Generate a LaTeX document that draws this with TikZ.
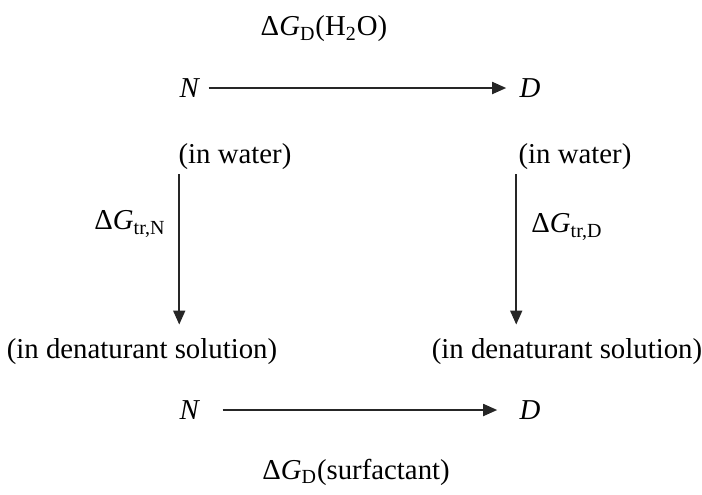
\documentclass[tikz,border=0pt]{standalone}
\usepackage{fontspec}
\setmainfont{Liberation Serif}
\usetikzlibrary{arrows.meta}
\tikzset{
  lbl/.style={inner sep=2pt, font=\fontsize{14.4}{17}\selectfont},
  arr/.style={line width=0.9pt, draw=black!85, -{Triangle[length=7pt,width=6pt]}}
}
\newcommand{\dG}{Δ\textit{G}}
\begin{document}
\begin{tikzpicture}[x=0.5pt, y=-0.5pt]
\useasboundingbox (0,0) rectangle (702,494);
% top row
\node[lbl] (gw) at (324,29) {\dG\textsubscript{D}(H\textsubscript{2}O)};
\node[lbl] (nt) at (190,88) {\textit{N}};
\node[lbl] (dt) at (530,88) {\textit{D}};
\draw[arr, shorten <=2pt, shorten >=4.5pt] (nt.east) -- (dt.west);
% states
\node[lbl] (wl) at (235,157) {(in water)};
\node[lbl] (wr) at (575,157) {(in water)};
\node[lbl] (sl) at (142,352) {(in denaturant solution)};
\node[lbl] (sr) at (567,352) {(in denaturant solution)};
% transfer
\draw[arr, shorten >=5pt] ([xshift=2.5pt]wl.south west) -- ([xshift=2.5pt]wl.south west |- sl.north);
\draw[arr, shorten >=5pt] ([xshift=1pt]wr.south west) -- ([xshift=1pt]wr.south west |- sr.north);
\node[lbl] (gn) at (130,224) {\dG\textsubscript{tr,N}};
\node[lbl] (gd) at (567,227) {\dG\textsubscript{tr,D}};
% bottom row
\node[lbl] (nb) at (190,410) {\textit{N}};
\node[lbl] (db) at (530,410) {\textit{D}};
\draw[arr, shorten <=9pt, shorten >=9pt] (nb.east) -- (db.west);
\node[lbl] (gs) at (356,472) {\dG\textsubscript{D}(surfactant)};
\end{tikzpicture}
\end{document}
